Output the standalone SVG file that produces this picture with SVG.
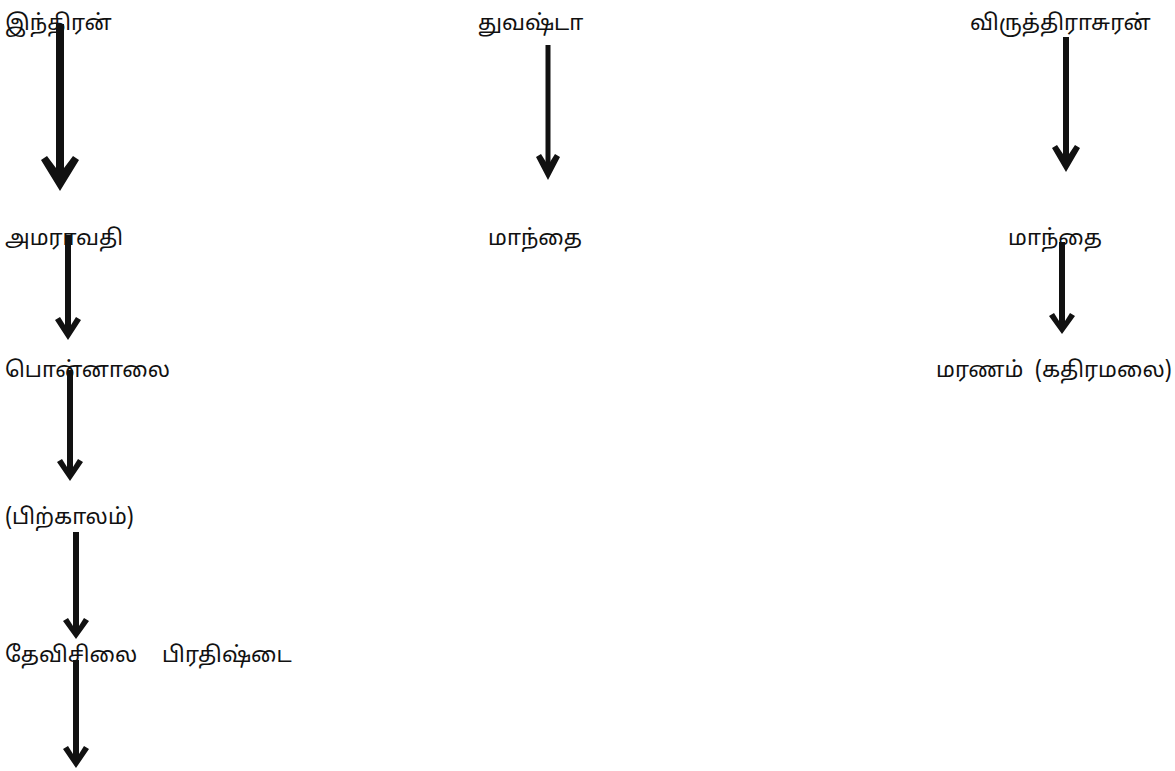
<svg xmlns="http://www.w3.org/2000/svg" width="1175" height="771" viewBox="0 0 1175 771">
<defs>
<style>
text{font-family:"Noto Sans Tamil","Lohit Tamil","Noto Sans","DejaVu Sans",sans-serif;font-size:22px;fill:#111;white-space:pre}
.c{stroke:#111;fill:none}
.h{fill:#111}
</style>
</defs>
<rect width="1175" height="771" fill="#fff"/>
<g id="n1"><text x="5" y="30">இந்திரன்</text></g>
<g id="n2"><text x="478" y="30">துவஷ்டா</text></g>
<g id="n3"><text x="970" y="30">விருத்திராசுரன்</text></g>
<g id="n4"><text x="5" y="245">அமராவதி</text></g>
<g id="n5"><text x="488" y="245">மாந்தை</text></g>
<g id="n6"><text x="1008" y="245">மாந்தை</text></g>
<g id="n7"><text x="5" y="377">பொன்னாலை</text></g>
<g id="n8"><text x="936" y="377" xml:space="preserve">மரணம்  (கதிரமலை)</text></g>
<g id="n9"><text x="5" y="524">(பிற்காலம்)</text></g>
<g id="n10"><text x="5" y="662" xml:space="preserve">தேவிசிலை  <tspan x="162">பிரதிஷ்டை</tspan></text></g>
<g id="connectors">
<line class="c" x1="60" y1="24" x2="60" y2="172" stroke-width="8"/>
<path class="h" d="M41,160 L47,156 L56,168 L64,168 L73,156 L79,160 L60,191 Z"/>
<line class="c" x1="548" y1="45" x2="548" y2="164" stroke-width="5"/>
<path class="h" d="M536,157 L541,154 L546,162 L550,162 L555,154 L560,157 L548,180 Z"/>
<line class="c" x1="1066" y1="37" x2="1066" y2="157" stroke-width="6"/>
<path class="h" d="M1052,148 L1057,145 L1063,154 L1069,154 L1075,145 L1080,148 L1066,172 Z"/>
<line class="c" x1="68" y1="235" x2="68" y2="328" stroke-width="6"/>
<path class="h" d="M55,320 L60,317 L65,325 L71,325 L76,317 L81,320 L68,340 Z"/>
<line class="c" x1="1062" y1="242" x2="1062" y2="324" stroke-width="6"/>
<path class="h" d="M1049,316 L1054,313 L1059,321 L1065,321 L1070,313 L1075,316 L1062,334 Z"/>
<line class="c" x1="70" y1="370" x2="70" y2="470" stroke-width="6"/>
<path class="h" d="M57,462 L62,459 L67,467 L73,467 L78,459 L83,462 L70,481 Z"/>
<line class="c" x1="76" y1="532" x2="76" y2="629" stroke-width="6"/>
<path class="h" d="M63,621 L68,618 L73,626 L79,626 L84,618 L89,621 L76,639 Z"/>
<line class="c" x1="76" y1="660" x2="76" y2="757" stroke-width="6"/>
<path class="h" d="M63,749 L68,746 L73,754 L79,754 L84,746 L89,749 L76,768 Z"/>
</g>
</svg>
